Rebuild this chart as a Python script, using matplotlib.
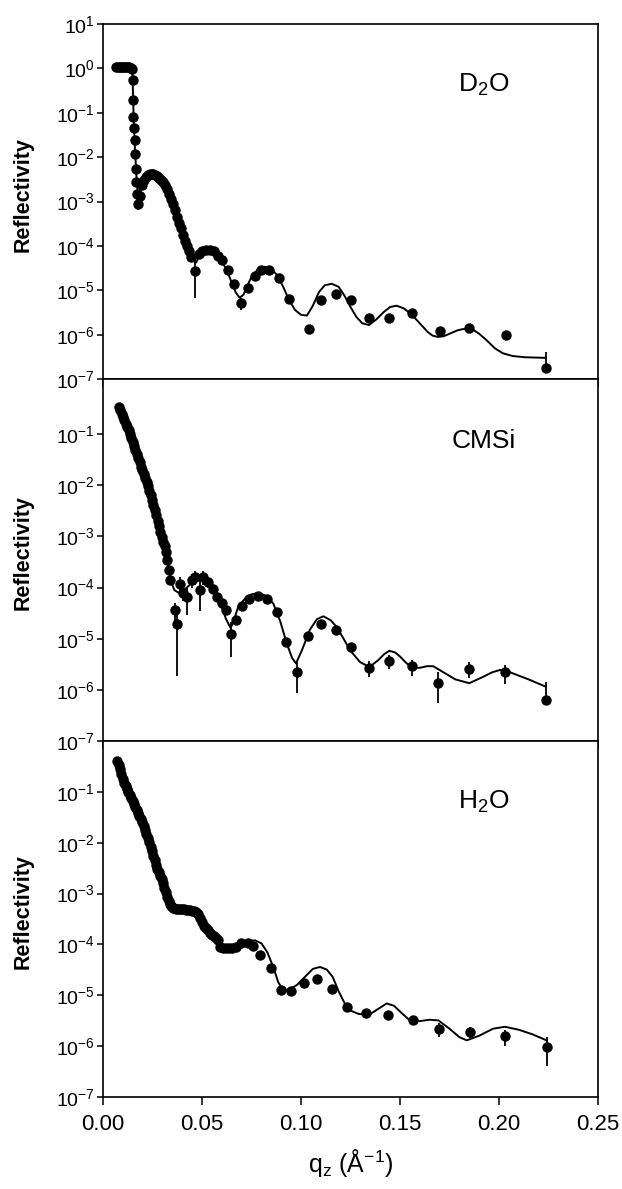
import numpy as np
import matplotlib
matplotlib.use("Agg")
import matplotlib.pyplot as plt

plt.rcParams['font.family'] = ['Liberation Sans', 'DejaVu Sans']
plt.rcParams['mathtext.fontset'] = 'custom'
plt.rcParams['mathtext.rm'] = 'Liberation Sans'

# ---- D2O data (q in 1/A, reflectivity, relative error) ----
q_d2o = [0.0068, 0.0076, 0.0084, 0.0092, 0.0100, 0.0108, 0.0116, 0.0124, 0.0132, 0.0140, 0.0146,
         0.0150, 0.0152, 0.0154, 0.0156, 0.0160, 0.0163, 0.0166, 0.0169, 0.0172, 0.0178,
         0.0185, 0.0195, 0.0205, 0.0215, 0.0225, 0.0235, 0.0245, 0.0255, 0.0265, 0.0275,
         0.0285, 0.0295, 0.0305, 0.0315, 0.0325, 0.0335, 0.0345, 0.0355, 0.0365, 0.0375,
         0.0385, 0.0395, 0.0405, 0.0415, 0.0425, 0.0435, 0.0445, 0.0465,
         0.0485, 0.0500, 0.0520, 0.0540, 0.0560, 0.0580, 0.0600, 0.0630, 0.0660, 0.0695,
         0.0730, 0.0770, 0.0800, 0.0840, 0.0890, 0.0940, 0.1040, 0.1100, 0.1177, 0.1253,
         0.1343, 0.1444, 0.1560, 0.1700, 0.1850, 0.2035, 0.2237]
r_d2o = [1.05, 1.1, 1.1, 1.1, 1.1, 1.1, 1.1, 1.08, 1.05, 1.0, 0.95,
         0.54, 0.19, 0.08, 0.045, 0.024, 0.0115, 0.0055, 0.0027, 0.0015, 0.0009,
         1.3e-3, 2.3e-3, 3.0e-3, 3.6e-3, 4.0e-3, 4.1e-3, 4.2e-3, 4.1e-3, 4.0e-3, 3.7e-3,
         3.4e-3, 3.1e-3, 2.8e-3, 2.4e-3, 1.9e-3, 1.45e-3, 1.15e-3, 9e-4, 6.5e-4, 4.6e-4,
         3.3e-4, 2.5e-4, 1.8e-4, 1.3e-4, 1.0e-4, 7.5e-5, 5.5e-5, 2.7e-5,
         6.7e-5, 7.6e-5, 8.2e-5, 8.2e-5, 7.6e-5, 6.0e-5, 4.7e-5, 2.9e-5, 1.4e-5, 5.2e-6,
         1.15e-5, 2.1e-5, 2.9e-5, 2.9e-5, 1.9e-5, 6.5e-6, 1.35e-6, 6.2e-6, 8.4e-6, 5.9e-6,
         2.4e-6, 2.4e-6, 3.1e-6, 1.2e-6, 1.45e-6, 1.0e-6, 1.8e-7]
e_d2o = [0.05] * 11 + [0.1] * 9 + [0.3] + \
        [0.1] * 14 + [0.2] * 13 + [0.75] + \
        [0.1] * 8 + [0.15, 0.3] + \
        [0.1] * 6 + [0.25, 0.1, 0.1, 0.1, 0.12, 0.12, 0.12, 0.25, 0.15, 0.2, 1.3]

fit_q_d2o = [0.0068, 0.0100, 0.0140, 0.0148, 0.0150, 0.0154, 0.0160, 0.0170, 0.0178, 0.0190,
             0.0210, 0.0230, 0.0250, 0.0270, 0.0290, 0.0310, 0.0330, 0.0350, 0.0370, 0.0390,
             0.0410, 0.0430, 0.0450, 0.0470, 0.0490, 0.0510, 0.0530, 0.0550, 0.0570, 0.0590,
             0.0610, 0.0630, 0.0650, 0.0670, 0.0690, 0.0710, 0.0730, 0.0750, 0.0780, 0.0815,
             0.0850, 0.0880, 0.0910, 0.0940, 0.0970, 0.1000, 0.1030, 0.1060, 0.1090, 0.1120,
             0.1155, 0.1190, 0.1220, 0.1250, 0.1280, 0.1310, 0.1343, 0.1380, 0.1420, 0.1450,
             0.1483, 0.1520, 0.1560, 0.1600, 0.1640, 0.1665, 0.1692, 0.1720, 0.1750, 0.1790,
             0.1815, 0.1843, 0.1870, 0.1900, 0.1940, 0.1980, 0.2020, 0.2070, 0.2130, 0.2237]
fit_r_d2o = [1.05, 1.1, 1.05, 0.9, 0.5, 0.1, 0.02, 0.003, 0.0011, 0.0018,
             0.0032, 0.0040, 0.0042, 0.0039, 0.0033, 0.0025, 0.0016, 0.0010, 5.5e-4, 2.9e-4,
             1.5e-4, 8.5e-5, 4.8e-5, 4.2e-5, 6.5e-5, 7.8e-5, 8.3e-5, 8.2e-5, 7.3e-5, 5.5e-5,
             3.8e-5, 2.5e-5, 1.5e-5, 9e-6, 6.8e-6, 8e-6, 1.3e-5, 2.0e-5, 2.9e-5, 3.4e-5,
             3.0e-5, 2.2e-5, 1.2e-5, 6.0e-6, 3.6e-6, 2.8e-6, 2.7e-6, 4.5e-6, 9e-6, 1.3e-5,
             1.4e-5, 1.2e-5, 7.5e-6, 4.2e-6, 2.5e-6, 1.8e-6, 1.65e-6, 2.2e-6, 3.3e-6, 4.2e-6,
             4.5e-6, 3.9e-6, 2.8e-6, 1.8e-6, 1.15e-6, 9.5e-7, 8.9e-7, 9.2e-7, 1.05e-6, 1.25e-6,
             1.33e-6, 1.35e-6, 1.28e-6, 1.05e-6, 7.3e-7, 4.9e-7, 3.8e-7, 3.3e-7, 3.1e-7, 3.0e-7]

# ---- CMSi data ----
q_cmsi = [0.0080, 0.0087, 0.0094, 0.0101, 0.0108, 0.0115, 0.0122, 0.0129, 0.0136, 0.0143,
          0.0150, 0.0157, 0.0164, 0.0171, 0.0178, 0.0185, 0.0192, 0.0199, 0.0206, 0.0213,
          0.0220, 0.0227, 0.0234, 0.0241, 0.0248, 0.0255, 0.0262, 0.0269, 0.0276, 0.0283,
          0.0290, 0.0297, 0.0304, 0.0311, 0.0318, 0.0325, 0.0332, 0.0340,
          0.0364, 0.0372, 0.0389, 0.0402, 0.0423, 0.0448, 0.0465, 0.0490, 0.0507, 0.0532,
          0.0554, 0.0577, 0.0600, 0.0620, 0.0645, 0.0672, 0.0704, 0.0739, 0.0781, 0.0827,
          0.0877, 0.0923, 0.0978, 0.1035, 0.1101, 0.1175, 0.1255, 0.1344, 0.1446, 0.1562,
          0.1694, 0.1850, 0.2030, 0.2237]
r_cmsi = [0.34, 0.30, 0.25, 0.22, 0.19, 0.16, 0.14, 0.12, 0.10, 0.083,
          0.069, 0.058, 0.049, 0.041, 0.034, 0.028, 0.023, 0.020, 0.0165, 0.0138,
          0.0115, 0.0098, 0.0079, 0.0065, 0.0052, 0.0042, 0.0033, 0.0026, 0.0020, 0.0016,
          0.00123, 0.00098, 0.00079, 0.00065, 0.0005, 0.00035, 0.00022, 0.00014,
          3.6e-5, 1.9e-5, 1.2e-4, 7.7e-5, 6.6e-5, 1.4e-4, 1.6e-4, 8.9e-5, 1.6e-4, 1.3e-4,
          9.6e-5, 6.6e-5, 4.9e-5, 3.6e-5, 1.26e-5, 2.3e-5, 4.4e-5, 5.9e-5, 6.9e-5, 6.1e-5,
          3.4e-5, 8.7e-6, 2.2e-6, 1.15e-5, 1.95e-5, 1.5e-5, 6.9e-6, 2.7e-6, 3.7e-6, 2.9e-6,
          1.38e-6, 2.6e-6, 2.2e-6, 6.3e-7]
e_cmsi = [0.2, 0.15] + [0.1] * 28 + [0.12] * 8 + \
         [0.4, 0.9, 0.35, 0.3, 0.55, 0.3, 0.3, 0.6, 0.3, 0.25,
          0.2, 0.15, 0.15, 0.15, 0.65, 0.1, 0.1, 0.1, 0.1, 0.1,
          0.1, 0.2, 0.6, 0.1, 0.1, 0.1, 0.1, 0.35, 0.3, 0.35,
          0.6, 0.35, 0.4, 1.3]

fit_q_cmsi = [0.0080, 0.0136, 0.0206, 0.0227, 0.0255, 0.0283, 0.0304, 0.0318, 0.0332, 0.0345,
              0.0360, 0.0380, 0.0410, 0.0440, 0.0470, 0.0500, 0.0530, 0.0560, 0.0590, 0.0620,
              0.0645, 0.0665, 0.0683, 0.0720, 0.0750, 0.0785, 0.0820, 0.0860, 0.0895, 0.0928,
              0.0955, 0.0975, 0.1005, 0.1045, 0.1080, 0.1113, 0.1150, 0.1180, 0.1215, 0.1247,
              0.1298, 0.1345, 0.1390, 0.1420, 0.1446, 0.1475, 0.1500, 0.1530, 0.1562, 0.1600,
              0.1635, 0.1668, 0.1720, 0.1780, 0.1850, 0.1920, 0.1965, 0.2005, 0.2040, 0.2070,
              0.2150, 0.2237]
fit_r_cmsi = [0.36, 0.10, 0.0165, 0.0098, 0.0042, 0.0016, 0.00079, 0.0005, 0.00024, 0.00013,
              9e-5, 8e-5, 9e-5, 1.15e-4, 1.4e-4, 1.5e-4, 1.3e-4, 9.5e-5, 5.5e-5, 2.5e-5,
              1.6e-5, 2.6e-5, 4.2e-5, 6.3e-5, 7.4e-5, 7.8e-5, 7.0e-5, 4.9e-5, 2.2e-5, 8.1e-6,
              4.2e-6, 3.3e-6, 6e-6, 1.5e-5, 2.4e-5, 2.75e-5, 2.3e-5, 1.7e-5, 1.0e-5, 6e-6,
              3.5e-6, 2.8e-6, 3.8e-6, 5.0e-6, 5.8e-6, 5.4e-6, 4.5e-6, 3.4e-6, 2.7e-6, 2.7e-6,
              2.9e-6, 2.9e-6, 2.2e-6, 1.6e-6, 1.35e-6, 1.8e-6, 2.2e-6, 2.45e-6, 2.35e-6, 2.1e-6,
              1.6e-6, 1.15e-6]

# ---- H2O data ----
q_h2o = [0.0072, 0.0079, 0.0086, 0.0093, 0.0100, 0.0107, 0.0114, 0.0121, 0.0128, 0.0135,
         0.0142, 0.0149, 0.0156, 0.0163, 0.0170, 0.0177, 0.0184, 0.0191, 0.0198, 0.0205,
         0.0212, 0.0219, 0.0226, 0.0233, 0.0240, 0.0247, 0.0254, 0.0261, 0.0268, 0.0275,
         0.0282, 0.0289, 0.0296, 0.0303, 0.0310, 0.0317, 0.0324, 0.0331,
         0.0338, 0.0345, 0.0352, 0.0360, 0.0370, 0.0380, 0.0390, 0.0400, 0.0410, 0.0420,
         0.0430, 0.0440, 0.0450, 0.0460, 0.0470, 0.0480, 0.0490, 0.0500, 0.0510, 0.0520,
         0.0530, 0.0540, 0.0550, 0.0560, 0.0570, 0.0580, 0.0590, 0.0605, 0.0620, 0.0635,
         0.0650, 0.0670, 0.0699, 0.0732, 0.0760, 0.0795, 0.0846, 0.0899, 0.0950, 0.1017,
         0.1079, 0.1156, 0.1234, 0.1330, 0.1441, 0.1567, 0.1699, 0.1854, 0.2030, 0.2240]
r_h2o = [0.40, 0.34, 0.28, 0.22, 0.18, 0.15, 0.13, 0.115, 0.10, 0.087,
         0.076, 0.066, 0.058, 0.050, 0.044, 0.038, 0.033, 0.029, 0.026, 0.021,
         0.018, 0.015, 0.0123, 0.0102, 0.0083, 0.0068, 0.0055, 0.0045, 0.0036, 0.0030,
         0.0026, 0.0022, 0.0019, 0.0016, 0.0013, 0.00107, 0.00087, 0.0007,
         6.3e-4, 5.6e-4, 5.2e-4, 5.1e-4, 5.0e-4, 4.9e-4, 4.9e-4, 4.9e-4, 4.9e-4, 4.8e-4,
         4.8e-4, 4.7e-4, 4.6e-4, 4.5e-4, 4.3e-4, 4.0e-4, 3.3e-4, 2.7e-4, 2.3e-4, 2.1e-4,
         1.9e-4, 1.7e-4, 1.55e-4, 1.45e-4, 1.35e-4, 1.2e-4, 9.0e-5, 8.5e-5, 8.4e-5, 8.5e-5,
         8.6e-5, 8.9e-5, 1.05e-4, 1.08e-4, 9.5e-5, 6.2e-5, 3.5e-5, 1.26e-5, 1.22e-5, 1.74e-5,
         2.1e-5, 1.35e-5, 6.0e-6, 4.5e-6, 4.1e-6, 3.2e-6, 2.2e-6, 1.9e-6, 1.55e-6, 9.6e-7]
e_h2o = [0.12] * 38 + [0.15] * 32 + [0.08] * 12 + [0.15, 0.2, 0.3, 0.25, 0.35, 0.57]

fit_q_h2o = [0.0072, 0.0128, 0.0198, 0.0233, 0.0268, 0.0296, 0.0317, 0.0331, 0.0345, 0.0400,
             0.0460, 0.0480, 0.0500, 0.0530, 0.0560, 0.0580, 0.0600, 0.0630, 0.0670, 0.0705,
             0.0745, 0.0768, 0.0800, 0.0830, 0.0860, 0.0885, 0.0911, 0.0940, 0.0980, 0.1020,
             0.1060, 0.1096, 0.1130, 0.1160, 0.1190, 0.1220, 0.1250, 0.1290, 0.1343, 0.1390,
             0.1433, 0.1470, 0.1510, 0.1550, 0.1600, 0.1650, 0.1694, 0.1750, 0.1800, 0.1837,
             0.1900, 0.1970, 0.2030, 0.2100, 0.2170, 0.2240]
fit_r_h2o = [0.40, 0.10, 0.026, 0.0102, 0.0036, 0.0019, 0.00107, 0.0007, 5.6e-4, 4.9e-4,
             4.6e-4, 4.0e-4, 2.7e-4, 1.9e-4, 1.45e-4, 1.15e-4, 9.5e-5, 9.5e-5, 1.0e-4, 1.1e-4,
             1.18e-4, 1.2e-4, 1.05e-4, 7e-5, 3.6e-5, 1.8e-5, 1.26e-5, 1.3e-5, 1.6e-5, 2.3e-5,
             3.3e-5, 3.6e-5, 3.2e-5, 2.3e-5, 1.2e-5, 7e-6, 5.0e-6, 4.3e-6, 4.1e-6, 5.4e-6,
             6.9e-6, 6.2e-6, 4.4e-6, 3.2e-6, 3.1e-6, 3.3e-6, 3.2e-6, 2.2e-6, 1.5e-6, 1.3e-6,
             1.6e-6, 2.2e-6, 2.4e-6, 2.1e-6, 1.7e-6, 1.3e-6]

panels = [
    (q_d2o, r_d2o, e_d2o, fit_q_d2o, fit_r_d2o, "D$_\\mathregular{2}$O", (1e-7, 10), range(1, -8, -1)),
    (q_cmsi, r_cmsi, e_cmsi, fit_q_cmsi, fit_r_cmsi, "CMSi", (1e-7, 1.2), range(-1, -8, -1)),
    (q_h2o, r_h2o, e_h2o, fit_q_h2o, fit_r_h2o, "H$_\\mathregular{2}$O", (1e-7, 1.0), range(-1, -8, -1)),
]

fig = plt.figure(figsize=(6.22, 11.89), dpi=100)
boxes = [(0.1656, 0.6812, 0.7958, 0.2986),
         (0.1656, 0.3768, 0.7958, 0.3044),
         (0.1656, 0.0774, 0.7958, 0.2994)]

for i, (q, r, e, fq, fr, name, ylim, exps) in enumerate(panels):
    ax = fig.add_axes(boxes[i])
    q = np.array(q)
    r = np.array(r)
    e = np.array(e)
    # lower bar left off where the error is larger than the value
    lo = np.where(e < 1, e, 0) * r
    hi = e * r

    ax.plot(fq, fr, color='black', lw=1.4, zorder=2)
    ax.errorbar(q, r, yerr=[lo, hi], fmt='o', color='black', ms=7.5, mew=0,
                elinewidth=1.3, capsize=4.5, capthick=1.3, zorder=3)

    ax.set_yscale('log')
    ax.set_ylim(*ylim)
    ax.set_xlim(0, 0.25)
    ticks = [10.0 ** k for k in exps]
    ax.set_yticks(ticks)
    ax.set_yticklabels(["$\\mathregular{10^{%d}}$" % k for k in exps])
    ax.yaxis.set_minor_locator(matplotlib.ticker.NullLocator())
    ax.set_xticks([0, 0.05, 0.10, 0.15, 0.20, 0.25])
    ax.tick_params(axis='y', direction='out', length=4, width=1.1, labelsize=14, pad=2)
    ax.tick_params(axis='x', direction='out', length=6, width=1.1, labelsize=16, pad=6)
    if i < 2:
        ax.set_xticklabels([])
    else:
        ax.set_xticklabels(["0.00", "0.05", "0.10", "0.15", "0.20", "0.25"])
        ax.set_xlabel("q$_\\mathregular{z}$ (Å$^\\mathregular{-1}$)", fontsize=18)
        ax.xaxis.set_label_coords(0.5, -0.14)
    for s in ax.spines.values():
        s.set_linewidth(1.2)

    ax.set_ylabel("Reflectivity", fontsize=15.5, fontweight='bold')
    ax.yaxis.set_label_coords(-0.14, 0.52)
    ax.text(0.77, 0.83, name, transform=ax.transAxes, fontsize=19,
            ha='center', va='center')

fig.savefig("out.png", dpi=100)
